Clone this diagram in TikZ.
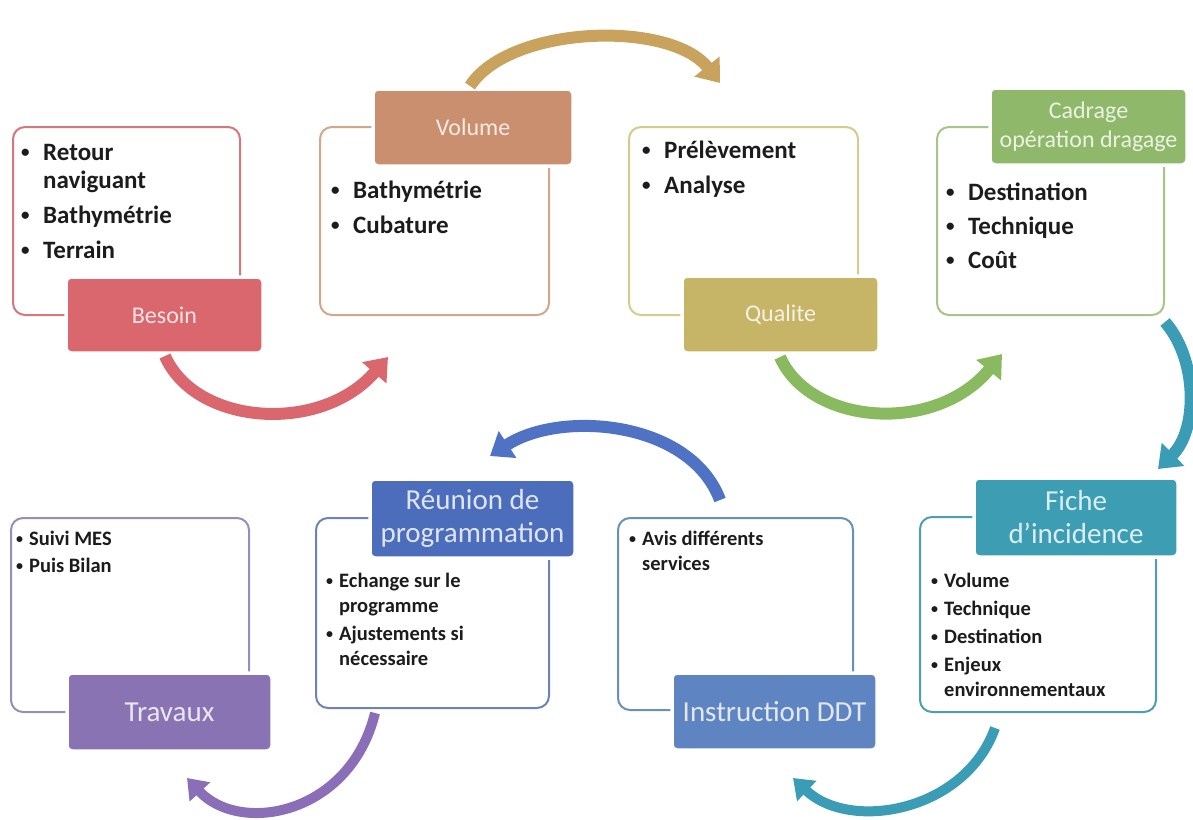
\documentclass[tikz,border=0pt]{standalone}
\usepackage{fontspec}
\setmainfont{Carlito}
\usetikzlibrary{arrows.meta}
\definecolor{cBes}{HTML}{D9676D}
\definecolor{oBes}{HTML}{D5777C}
\definecolor{cVol}{HTML}{C98F6E}
\definecolor{oVol}{HTML}{D4A68A}
\definecolor{cGold}{HTML}{C9A35E}
\definecolor{cQua}{HTML}{C7B567}
\definecolor{oQua}{HTML}{D6CB8C}
\definecolor{cCad}{HTML}{8FB86A}
\definecolor{oCad}{HTML}{A7C48A}
\definecolor{cGreen}{HTML}{8ABA5F}
\definecolor{cFic}{HTML}{3C9DB3}
\definecolor{oFic}{HTML}{4E9EB2}
\definecolor{cTeal}{HTML}{3A9DB5}
\definecolor{cIns}{HTML}{5F84C2}
\definecolor{oIns}{HTML}{6A8FB9}
\definecolor{cReu}{HTML}{4B6DBC}
\definecolor{oReu}{HTML}{6D82BB}
\definecolor{cBlue}{HTML}{4F72C4}
\definecolor{cTra}{HTML}{8A73B3}
\definecolor{oTra}{HTML}{9A8DB4}
\definecolor{cPur}{HTML}{8A6FB8}
\definecolor{txtC}{HTML}{1C1C1C}
\newcommand\fTop{\fontsize{25}{28}\selectfont\bfseries}
\newcommand\fBot{\fontsize{20.5}{25}\selectfont\bfseries}
\newcommand\fLabS{\fontsize{24}{29}\selectfont}
\newcommand\fLabL{\fontsize{29}{33}\selectfont}
\newcommand\bT{\makebox[22pt][l]{\raisebox{2.2pt}{\fontsize{17}{17}\selectfont •}}}
\newcommand\bB{\makebox[13pt][l]{\raisebox{1.8pt}{\fontsize{14}{14}\selectfont •}}}
\tikzset{
  outl/.style={draw=#1, line width=2pt, rounded corners=12pt, fill=white, inner sep=0pt},
  lab/.style={fill=#1, draw=white, line width=3.5pt, rounded corners=5pt,
    text=white!82!#1, align=center, inner sep=0pt},
  txt/.style={inner sep=0pt, text=txtC, anchor=base west},
  cyc/.style={draw=#1, line width=12pt, -{Triangle[length=21pt,width=31pt]}},
  cycs/.style={draw=#1, line width=10pt, -{Triangle[length=19pt,width=27pt]}}
}
\begin{document}
\begin{tikzpicture}[x=1pt,y=-1pt]
\useasboundingbox (0,0) rectangle (1193,819);
% ---------- outline boxes ----------
\node[outl=oBes, minimum width=227pt, minimum height=188pt] (besO) at (126.5,221) {};
\node[outl=oVol, minimum width=229pt, minimum height=188pt] (volO) at (434.5,221) {};
\node[outl=oQua, minimum width=229pt, minimum height=188pt] (quaO) at (743.5,221) {};
\node[outl=oCad, minimum width=227pt, minimum height=188pt] (cadO) at (1050.5,221) {};
\node[outl=oFic, minimum width=236pt, minimum height=195pt] (ficO) at (1038,614.5) {};
\node[outl=oIns, minimum width=235pt, minimum height=192pt] (insO) at (735.5,614) {};
\node[outl=oReu, minimum width=233pt, minimum height=190pt] (reuO) at (432.5,613) {};
\node[outl=oTra, minimum width=238pt, minimum height=194pt] (traO) at (130,615) {};
% ---------- label boxes ----------
\node[lab=cBes, minimum width=197pt, minimum height=76pt, font=\fLabS] (besoin) at (164.5,315) {Besoin};
\node[lab=cVol, minimum width=200pt, minimum height=77pt, font=\fLabS] (volume) at (473,127.5) {Volume};
\node[lab=cQua, minimum width=197pt, minimum height=77pt, font=\fLabS] (qualite) at (780.5,314.5) {Qualite};
\node[lab=cCad, minimum width=197pt, minimum height=77pt, font=\fLabS] (cadrage) at (1088.5,126.5) {Cadrage\\opération dragage};
\node[lab=cFic, minimum width=204pt, minimum height=79pt, font=\fLabL] (fiche) at (1076,517.5) {Fiche\\d’incidence};
\node[lab=cIns, minimum width=205pt, minimum height=77pt, font=\fLabL] (instr) at (774.5,711.5) {Instruction DDT};
\node[lab=cReu, minimum width=205pt, minimum height=79pt, font=\fLabL] (reunion) at (472.5,518.5) {Réunion de\\programmation};
\node[lab=cTra, minimum width=205pt, minimum height=78pt, font=\fLabL] (travaux) at (169.5,712) {Travaux};
% ---------- bullet texts ----------
\node[txt, font=\fTop] (besT) at (21,160) {\begin{tabular}[t]{@{}l@{}}\bT Retour\\\hspace*{22pt}naviguant\\[7pt]\bT Bathymétrie\\[7pt]\bT Terrain\end{tabular}};
\node[txt, font=\fTop] (volT) at (331,198) {\begin{tabular}[t]{@{}l@{}}\bT Bathymétrie\\[7pt]\bT Cubature\end{tabular}};
\node[txt, font=\fTop] (quaT) at (642,158) {\begin{tabular}[t]{@{}l@{}}\bT Prélèvement\\[7pt]\bT Analyse\end{tabular}};
\node[txt, font=\fTop] (cadT) at (946,200) {\begin{tabular}[t]{@{}l@{}}\bT Destination\\[6pt]\bT Technique\\[6pt]\bT Coût\end{tabular}};
\node[txt, font=\fBot] (ficT) at (931,587) {\begin{tabular}[t]{@{}l@{}}\bB Volume\\[3pt]\bB Technique\\[3pt]\bB Destination\\[3pt]\bB Enjeux\\\hspace*{13pt}environnementaux\end{tabular}};
\node[txt, font=\fBot] (insT) at (629,545) {\begin{tabular}[t]{@{}l@{}}\bB Avis différents\\\hspace*{13pt}services\end{tabular}};
\node[txt, font=\fBot] (reuT) at (326,587) {\begin{tabular}[t]{@{}l@{}}\bB Echange sur le\\\hspace*{13pt}programme\\[3pt]\bB Ajustements si\\\hspace*{13pt}nécessaire\end{tabular}};
\node[txt, font=\fBot] (traT) at (16,545) {\begin{tabular}[t]{@{}l@{}}\bB Suivi MES\\[2pt]\bB Puis Bilan\end{tabular}};
% ---------- cycle arrows ----------
\coordinate (a1s) at (165,356);  \coordinate (a1e) at (388,357);
\coordinate (a2s) at (470,86);   \coordinate (a2e) at (720,83);
\coordinate (a3s) at (780,357);  \coordinate (a3e) at (1002,354);
\coordinate (a4s) at (1165,322); \coordinate (a4e) at (1158,469);
\coordinate (a5s) at (995,728);  \coordinate (a5e) at (793,778);
\coordinate (a6s) at (720,500);  \coordinate (a6e) at (490,456);
\coordinate (a7s) at (375,713);  \coordinate (a7e) at (187,778);
\draw[cyc=cBes] (a1s) .. controls (195,425) and (320,435) .. (a1e);
\draw[cyc=cGold] (a2s) .. controls (510,25) and (670,20) .. (a2e);
\draw[cyc=cGreen] (a3s) .. controls (810,425) and (935,435) .. (a3e);
\draw[cyc=cTeal] (a4s) .. controls (1198,360) and (1198,430) .. (a4e);
\draw[cycs=cTeal] (a5s) .. controls (965,812) and (850,832) .. (a5e);
\draw[cyc=cBlue] (a6s) .. controls (690,420) and (560,410) .. (a6e);
\draw[cycs=cPur] (a7s) .. controls (350,815) and (240,835) .. (a7e);
\end{tikzpicture}
\end{document}
